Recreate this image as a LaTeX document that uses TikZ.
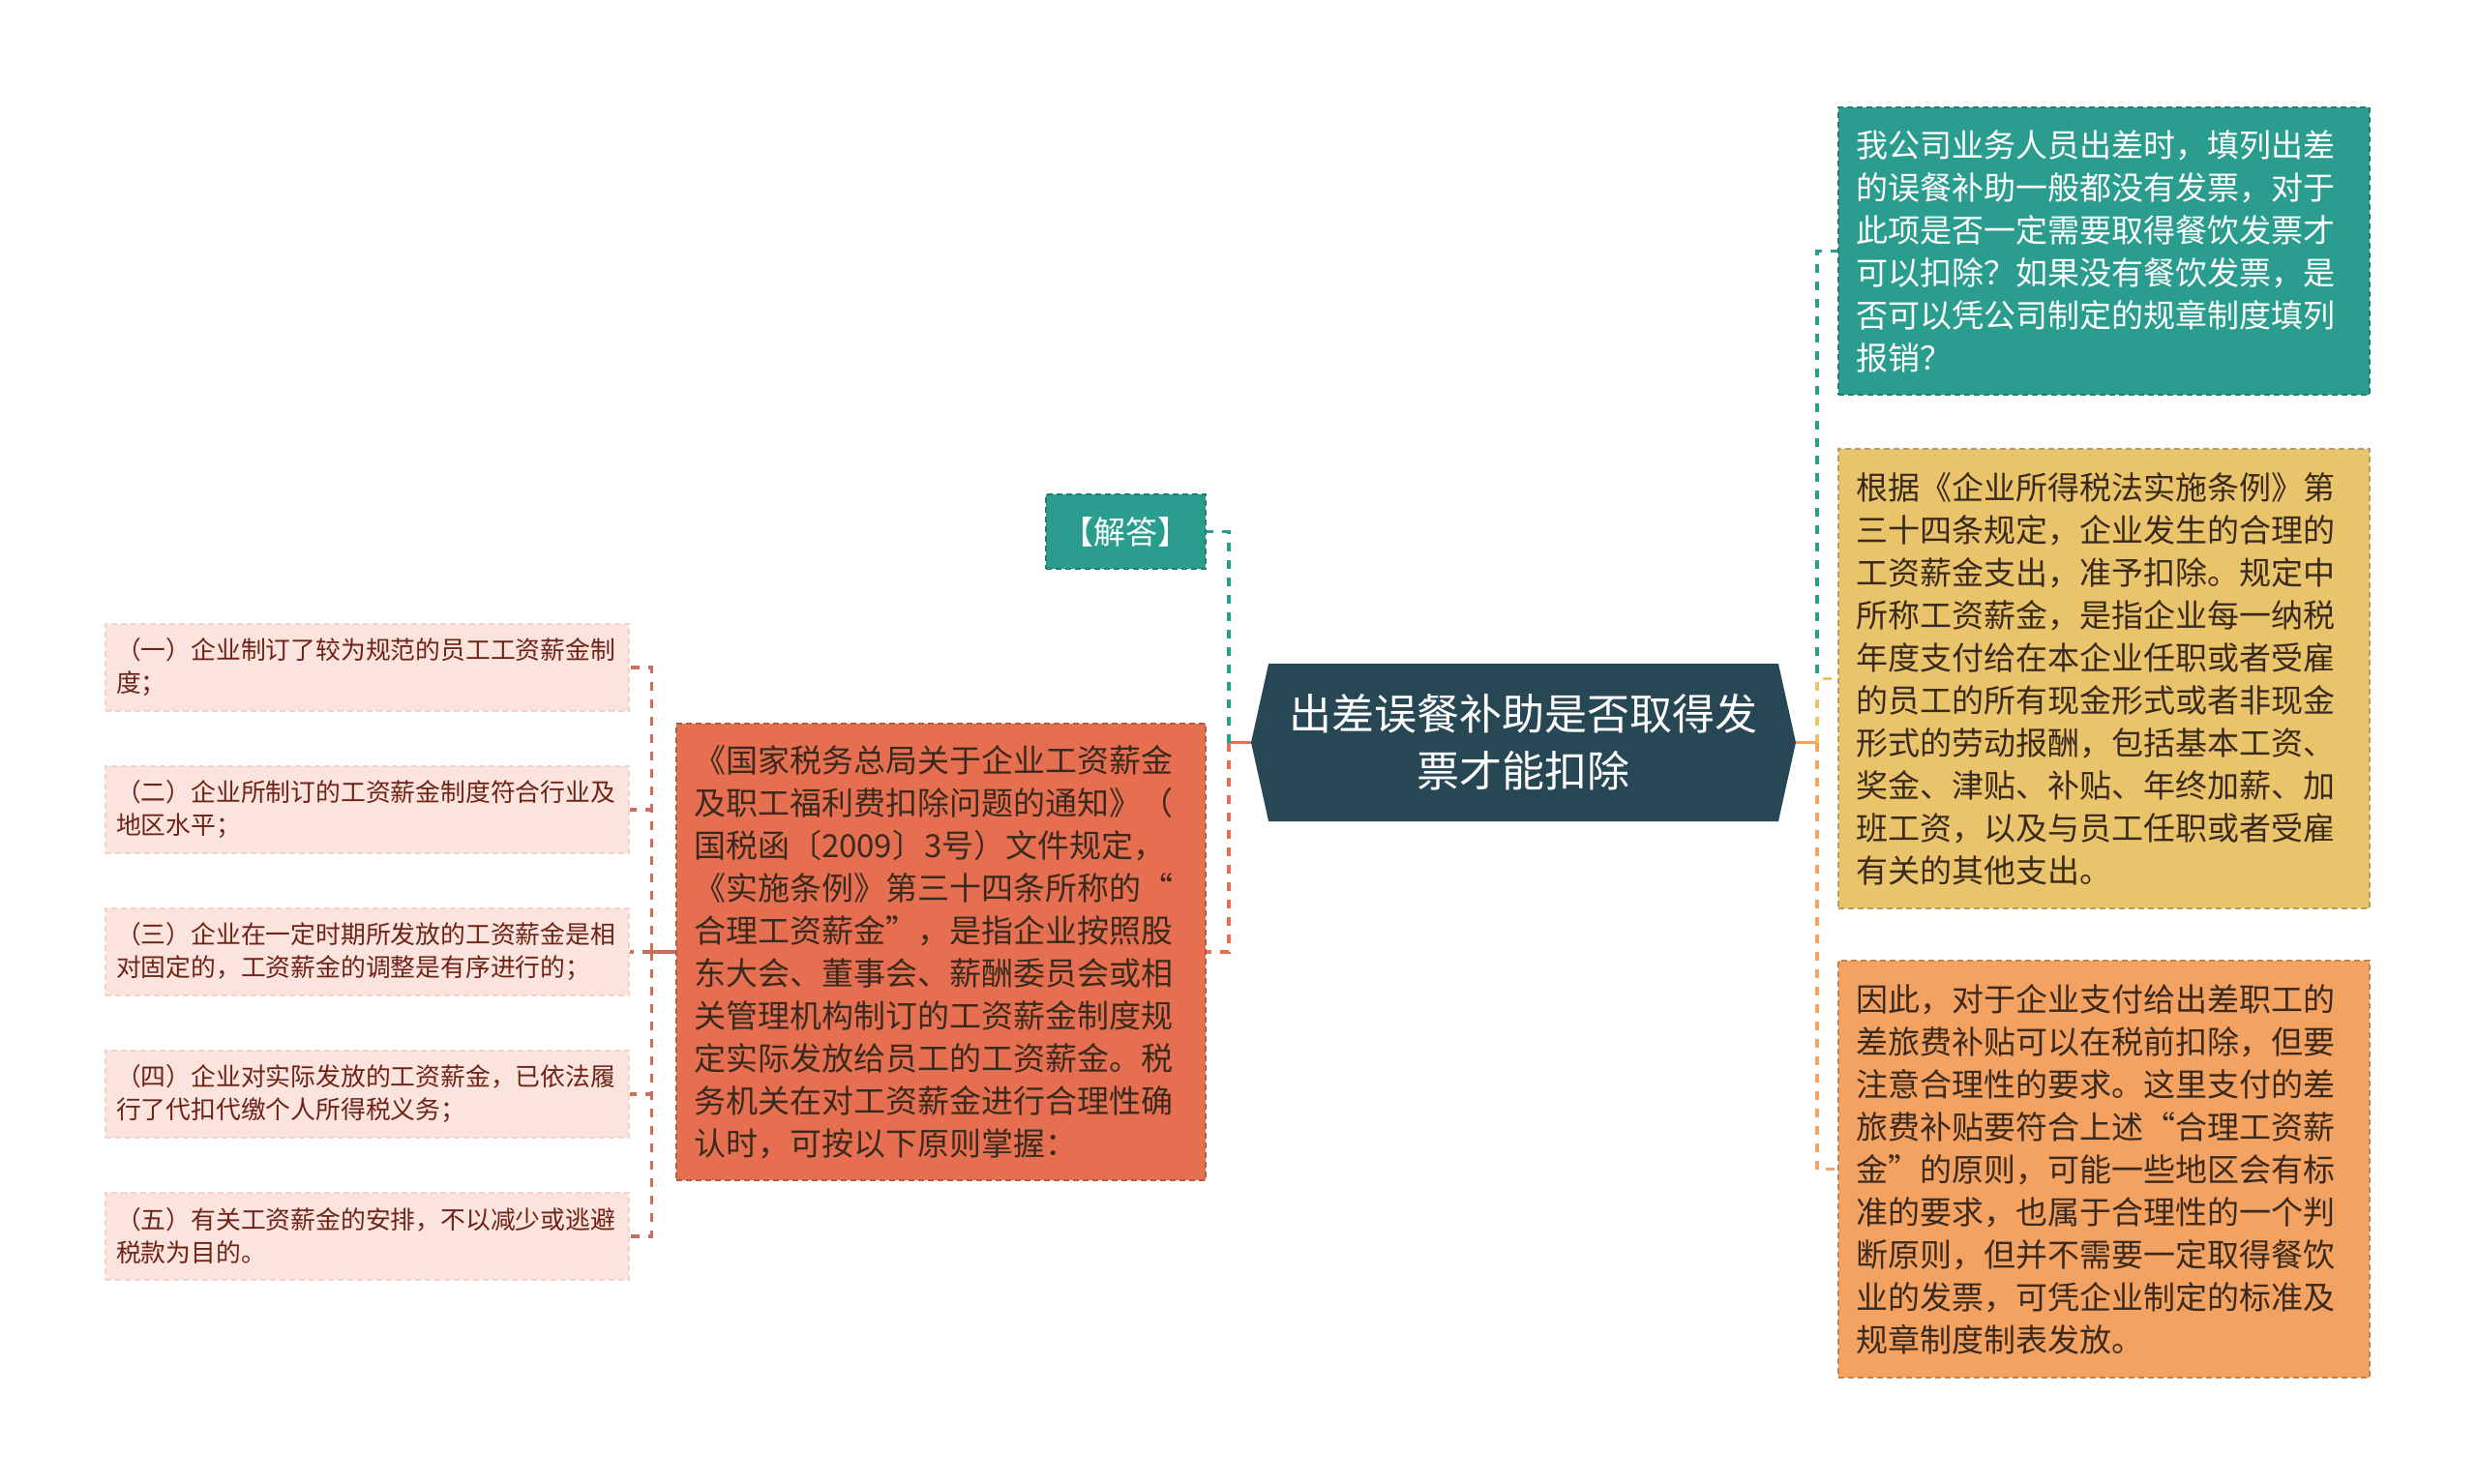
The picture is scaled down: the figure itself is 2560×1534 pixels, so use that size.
\documentclass[tikz,border=0pt]{standalone}
\usepackage{fontspec}
\setmainfont{Noto Sans CJK SC}
\usepackage{tikz}
\usetikzlibrary{positioning}
\usetikzlibrary{shapes.symbols}
\definecolor{topicblue}{HTML}{284755}
\definecolor{leafteal}{HTML}{2A9D8F}
\definecolor{leafyellow}{HTML}{E9C46A}
\definecolor{leaforange}{HTML}{F4A261}
\definecolor{leafred}{HTML}{E76F51}
\definecolor{leafpink}{HTML}{FBE4DE}
\definecolor{pinkline}{HTML}{C96F5B}
\definecolor{inkdark}{HTML}{3A2A1E}
\definecolor{inkred}{HTML}{6E2316}

\begin{document}
\begin{tikzpicture}[x=1pt,y=-1pt,
                box/.style={rectangle,inner xsep=18pt,inner ysep=0pt,align=left,
                    font=\fontsize{33}{44}\selectfont,line width=1.5pt,dash pattern=on 6pt off 4pt},
                pinkbox/.style={box,inner xsep=11pt,fill=leafpink,draw=leafpink!85!pinkline,text=inkred,
                    text width=519pt,minimum height=90pt,font=\fontsize{25.8}{34}\selectfont},
                link/.style={line width=3.5pt},
                dashlink/.style={link,dash pattern=on 9pt off 9pt}]
                \fill[white] (0,0) rectangle (2560,1534);
                \useasboundingbox (0,0) rectangle (2560,1534);
                \node[signal,signal to=west and east,signal pointer angle=155,fill=topicblue,text=white,
                    minimum width=563pt,minimum height=163pt,align=center,
                    font=\fontsize{44}{59}\selectfont] (topic) at (1574.5,767.5)
                    {出差误餐补助是否取得发\\票才能扣除};
                \node[box,fill=leafteal,draw=leafteal!80!black,text=white,text width=513pt,minimum height=297pt]
                    (question) at (2174.5,259.5)
                    {我公司业务人员出差时，填列出差\\的误餐补助一般都没有发票，对于\\此项是否一定需要取得餐饮发票才\\可以扣除？如果没有餐饮发票，是\\否可以凭公司制定的规章制度填列\\报销？};
                \node[box,fill=leafyellow,draw=leafyellow!80!black,text=inkdark,text width=513pt,minimum height=475pt]
                    (rule) at (2174.5,701.5)
                    {根据《企业所得税法实施条例》第\\三十四条规定，企业发生的合理的\\工资薪金支出，准予扣除。规定中\\所称工资薪金，是指企业每一纳税\\年度支付给在本企业任职或者受雇\\的员工的所有现金形式或者非现金\\形式的劳动报酬，包括基本工资、\\奖金、津贴、补贴、年终加薪、加\\班工资，以及与员工任职或者受雇\\有关的其他支出。};
                \node[box,fill=leaforange,draw=leaforange!80!black,text=inkdark,text width=513pt,minimum height=431pt]
                    (conclusion) at (2174.5,1208.5)
                    {因此，对于企业支付给出差职工的\\差旅费补贴可以在税前扣除，但要\\注意合理性的要求。这里支付的差\\旅费补贴要符合上述“合理工资薪\\金”的原则，可能一些地区会有标\\准的要求，也属于合理性的一个判\\断原则，但并不需要一定取得餐饮\\业的发票，可凭企业制定的标准及\\规章制度制表发放。};
                \node[box,fill=leafred,draw=leafred!80!black,text=inkdark,text width=511pt,minimum height=472pt]
                    (notice) at (972.5,984)
                    {《国家税务总局关于企业工资薪金\\及职工福利费扣除问题的通知》（\\国税函〔2009〕3号）文件规定，\\《实施条例》第三十四条所称的“\\合理工资薪金”，是指企业按照股\\东大会、董事会、薪酬委员会或相\\关管理机构制订的工资薪金制度规\\定实际发放给员工的工资薪金。税\\务机关在对工资薪金进行合理性确\\认时，可按以下原则掌握：};
                \node[box,inner xsep=0pt,fill=leafteal,draw=leafteal!80!black,text=white,align=center,
                    minimum width=165pt,minimum height=77pt] (answer) at (1163.5,549.5) {【解答】};
                \foreach \i/\txt in {1/{（一）企业制订了较为规范的员工工资薪金制\\度；},
                                     2/{（二）企业所制订的工资薪金制度符合行业及\\地区水平；},
                                     3/{（三）企业在一定时期所发放的工资薪金是相\\对固定的，工资薪金的调整是有序进行的；},
                                     4/{（四）企业对实际发放的工资薪金，已依法履\\行了代扣代缴个人所得税义务；},
                                     5/{（五）有关工资薪金的安排，不以减少或逃避\\税款为目的。}}
                    \node[pinkbox] (principle\i) at (379.5,{690+147*(\i-1)}) {\txt};
                \draw[link,leafred] (topic.west) -- ++(-23,0) coordinate (leftjoint);
                \draw[dashlink,leafteal] (leftjoint) |- (answer.east);
                \draw[dashlink,leafred] (leftjoint) |- (notice.east);
                \draw[link,leaforange] (topic.east) -- ++(22,0) coordinate (rightjoint);
                \draw[dashlink,leafteal] (rightjoint) |- (question.west);
                \draw[dashlink,leafyellow] (rightjoint) |- (rule.west);
                \draw[dashlink,leaforange] (rightjoint) |- (conclusion.west);
                \draw[link,pinkline] (notice.west) -- ++(-25,0) coordinate (pinkjoint);
                \foreach \i in {1,...,5}
                    \draw[dashlink,pinkline] (pinkjoint) |- (principle\i.east);
            \end{tikzpicture}
\end{document}
